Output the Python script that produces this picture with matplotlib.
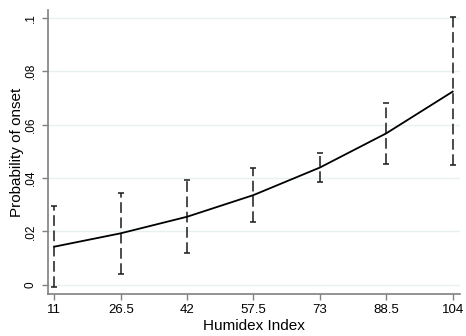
import numpy as np
import matplotlib.pyplot as plt

plt.rcParams['font.family'] = ['Liberation Sans', 'DejaVu Sans']

# predicted probability of onset by humidex, with 95% CI
humidex = [11, 26.5, 42, 57.5, 73, 88.5, 104]
prob = [0.0143, 0.0193, 0.0255, 0.0336, 0.0439, 0.0567, 0.0723]
ci_low = [-0.0006, 0.0041, 0.0121, 0.0237, 0.0384, 0.0451, 0.0449]
ci_high = [0.0295, 0.0345, 0.0393, 0.0439, 0.0495, 0.0682, 0.1001]

yticks = [0, 0.02, 0.04, 0.06, 0.08, 0.1]
ytick_labels = ['0', '.02', '.04', '.06', '.08', '.1']

fig = plt.figure(figsize=(4.66, 3.36), dpi=100)
ax = fig.add_axes([0.1024, 0.125, 0.8846, 0.845])

for y in yticks:
    ax.axhline(y, color='#e8f0f2', lw=1.0, zorder=0)

x = np.array(humidex)
lo = np.array(ci_low)
hi = np.array(ci_high)
ax.vlines(x, lo, hi, color='#1a1a1a', lw=1.1, linestyles=(0, (7, 3)))
cap = 0.7
ax.hlines(lo, x - cap, x + cap, color='#1a1a1a', lw=1.1)
ax.hlines(hi, x - cap, x + cap, color='#1a1a1a', lw=1.1)

ax.plot(humidex, prob, color='black', lw=1.3)

ax.set_xlim(9.46, 105.7)
ax.set_ylim(-0.0034, 0.1028)
ax.set_xticks(humidex)
ax.set_xticklabels(['11', '26.5', '42', '57.5', '73', '88.5', '104'])
ax.set_yticks(yticks)
ax.set_yticklabels(ytick_labels, rotation=90, va='center')

for side in ['top', 'right']:
    ax.spines[side].set_visible(False)
for side in ['left', 'bottom']:
    ax.spines[side].set_color('#808080')
    ax.spines[side].set_linewidth(1.2)
ax.tick_params(axis='both', colors='#808080', labelcolor='black',
               length=4, width=1, labelsize=9.5, pad=3)
ax.tick_params(axis='y', labelsize=8.5, pad=4)

ax.set_xlabel('Humidex Index', fontsize=11, labelpad=2)
ax.set_ylabel('Probability of onset', fontsize=11)
ax.yaxis.set_label_coords(-0.058, 0.5)

fig.savefig('out.png', dpi=100)
